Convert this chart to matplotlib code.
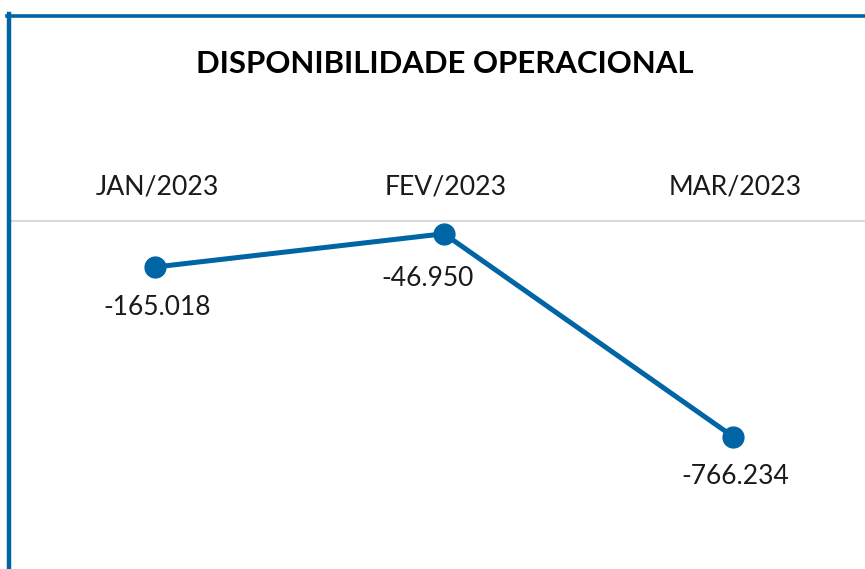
import matplotlib.pyplot as plt
from matplotlib.lines import Line2D

months = ['JAN/2023', 'FEV/2023', 'MAR/2023']
values = [-165018, -46950, -766234]
labels = ['-165.018', '-46.950', '-766.234']

blue = '#0065A4'
font = 'Lato'

fig = plt.figure(figsize=(8.65, 5.69), dpi=100)
ax = fig.add_axes([10 / 865, 0, 855 / 865, 348.5 / 569])
ax.set_xlim(-0.502, 2.457)
ax.set_ylim(-1236000, 0)
ax.axis('off')

ax.axhline(0, color='#D9D9D9', lw=1.5, clip_on=False, zorder=1)
x = list(range(len(months)))
ax.plot(x, values, color=blue, lw=3.6, marker='o', markersize=15, zorder=3)

# data labels under each point
offsets = [(2, -40), (-16, -45), (2, -40)]
for xi, v, lab, off in zip(x, values, labels, offsets):
    ax.annotate(lab, (xi, v), xytext=(off[0] / 1.389, off[1] / 1.389),
                textcoords='offset points', ha='center', va='center',
                fontsize=19, family=font, color='#1a1a1a')

# category labels above the zero line
for xi, m in zip(x, months):
    ax.annotate(m, (xi, 0), xytext=(2 / 1.389, 34 / 1.389),
                textcoords='offset points', ha='center', va='center',
                fontsize=19.2, family=font, color='#1a1a1a', annotation_clip=False)

fig.text(445 / 865, 1 - 64 / 569, 'DISPONIBILIDADE OPERACIONAL', ha='center', va='center',
         fontsize=22.4, fontweight='bold', family=font, color='#000000')

# frame on the left and top
fig.add_artist(Line2D([9 / 865, 9 / 865], [0, 1 - 14 / 569], color=blue, lw=3.2))
fig.add_artist(Line2D([7 / 865, 1], [1 - 15.5 / 569, 1 - 15.5 / 569], color=blue, lw=2.6))

fig.savefig('out.png', dpi=100)
